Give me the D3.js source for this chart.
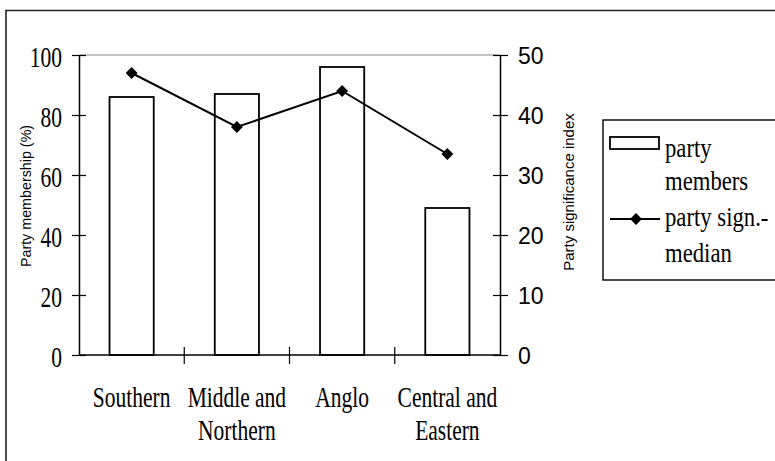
<!DOCTYPE html>
<html>
<head>
<meta charset="utf-8">
<script src="https://cdn.jsdelivr.net/npm/d3@7"></script>
<style>
  html, body { margin: 0; padding: 0; background: #fff; }
  svg { display: block; }
</style>
</head>
<body>
<svg id="chart" width="775" height="461"></svg>
<script>
// Regions (two-line labels split on "\n")
const categories = ["Southern", "Middle and\nNorthern", "Anglo", "Central and\nEastern"];
// Share of party members (%), left axis
const membership = [86, 87, 96, 49];
// Median party significance index, right axis
const significance = [47, 38, 44, 33.5];
const leftTicks = [0, 20, 40, 60, 80, 100];
const rightTicks = [0, 10, 20, 30, 40, 50];
const legendLabels = [["party", "members"], ["party sign.-", "median"]];

const svg = d3.select("#chart");
const serif = "'Liberation Serif', 'Times New Roman', serif";
const sans = "'Liberation Sans', Arial, sans-serif";
const STRETCH = 1.4; // vertical stretch applied to serif labels

const plot = { left: 79, right: 500, top: 55, bottom: 355 };

// Outer frame (top and left edges; the rest runs off the canvas)
svg.append("path")
  .attr("d", "M6,462 V10.5 H776")
  .attr("fill", "none").attr("stroke", "#222").attr("stroke-width", 1.6);

const x = d3.scaleBand()
  .domain(categories)
  .range([plot.left, plot.right])
  .paddingInner(0.58)
  .paddingOuter(0.29);
const yL = d3.scaleLinear().domain([0, 100]).range([plot.bottom, plot.top]);
const yR = d3.scaleLinear().domain([0, 50]).range([plot.bottom, plot.top]);
const cx = d => x(d) + x.bandwidth() / 2;

// Plot-area top edge
svg.append("line")
  .attr("x1", plot.left).attr("x2", plot.right)
  .attr("y1", plot.top).attr("y2", plot.top)
  .attr("stroke", "#888").attr("stroke-width", 1.2);

// Bars
svg.append("g").selectAll("rect")
  .data(categories)
  .join("rect")
  .attr("x", d => x(d))
  .attr("width", x.bandwidth())
  .attr("y", (d, i) => yL(membership[i]))
  .attr("height", (d, i) => yL(0) - yL(membership[i]))
  .attr("fill", "#fff")
  .attr("stroke", "#000")
  .attr("stroke-width", 1.8);

// Left axis
const gL = svg.append("g").attr("transform", `translate(${plot.left},0)`);
gL.call(d3.axisLeft(yL).tickValues(leftTicks).tickSize(0).tickFormat(""));
gL.select(".domain").attr("stroke", "#000").attr("stroke-width", 1.5);
gL.selectAll(".tick").append("line")
  .attr("x1", -7).attr("x2", 7).attr("stroke", "#000").attr("stroke-width", 1.2);
gL.selectAll(".tick").append("text")
  .attr("transform", `translate(-17,0) scale(1,${STRETCH})`)
  .attr("dy", "0.38em")
  .attr("text-anchor", "end")
  .attr("fill", "#000")
  .style("font-family", serif).style("font-size", "21.5px")
  .text(d => d);

// Right axis
const gR = svg.append("g").attr("transform", `translate(${plot.right},0)`);
gR.call(d3.axisRight(yR).tickValues(rightTicks).tickSize(0).tickFormat(""));
gR.select(".domain").attr("stroke", "#000").attr("stroke-width", 1.5);
gR.selectAll(".tick").append("line")
  .attr("x1", -7).attr("x2", 8).attr("stroke", "#000").attr("stroke-width", 1.2);
gR.selectAll(".tick").append("text")
  .attr("x", 18).attr("dy", "0.36em")
  .attr("text-anchor", "start")
  .attr("fill", "#000")
  .style("font-family", sans).style("font-size", "23px")
  .text(d => d);

// Bottom axis with ticks at category boundaries
const gB = svg.append("g").attr("transform", `translate(0,${plot.bottom})`);
gB.append("line")
  .attr("x1", plot.left).attr("x2", plot.right)
  .attr("stroke", "#000").attr("stroke-width", 1.5);
const boundaries = categories.slice(1).map(d => x(d) - (x.step() - x.bandwidth()) / 2);
gB.selectAll("line.tick")
  .data(boundaries)
  .join("line")
  .attr("class", "tick")
  .attr("x1", d => d).attr("x2", d => d)
  .attr("y1", -8).attr("y2", 9)
  .attr("stroke", "#000").attr("stroke-width", 1.2);
const catLabels = gB.selectAll("g.cat")
  .data(categories)
  .join("g")
  .attr("class", "cat")
  .attr("transform", d => `translate(${cx(d)},0)`);
catLabels.each(function (d) {
  const lines = d.split("\n");
  d3.select(this).selectAll("text")
    .data(lines)
    .join("text")
    .attr("transform", (l, i) => `translate(0,${52 + i * 33}) scale(1,${STRETCH})`)
    .attr("text-anchor", "middle")
    .attr("fill", "#000")
    .style("font-family", serif).style("font-size", "21.5px")
    .text(l => l);
});

// Axis titles
svg.append("text")
  .attr("transform", "translate(31,196) rotate(-90)")
  .attr("text-anchor", "middle")
  .attr("fill", "#000")
  .style("font-family", sans).style("font-size", "14.3px")
  .text("Party membership (%)");
svg.append("text")
  .attr("transform", "translate(574,192) rotate(-90)")
  .attr("text-anchor", "middle")
  .attr("fill", "#000")
  .style("font-family", sans).style("font-size", "15px")
  .text("Party significance index");

// Significance line with diamond markers
const line = d3.line()
  .x((v, i) => cx(categories[i]))
  .y(v => yR(v));
svg.append("path")
  .datum(significance)
  .attr("d", line)
  .attr("fill", "none")
  .attr("stroke", "#000")
  .attr("stroke-width", 2);
const diamond = d3.symbol().type(d3.symbolDiamond2).size(90);
svg.append("g").selectAll("path")
  .data(significance)
  .join("path")
  .attr("transform", (v, i) => `translate(${cx(categories[i])},${yR(v)})`)
  .attr("d", diamond)
  .attr("fill", "#000");

// Legend
const lg = svg.append("g");
lg.append("rect")
  .attr("x", 603).attr("y", 120)
  .attr("width", 200).attr("height", 160)
  .attr("fill", "#fff").attr("stroke", "#000").attr("stroke-width", 1.4);
lg.append("rect")
  .attr("x", 610).attr("y", 137)
  .attr("width", 49).attr("height", 12)
  .attr("fill", "#fff").attr("stroke", "#000").attr("stroke-width", 1.8);
lg.append("line")
  .attr("x1", 610).attr("x2", 660)
  .attr("y1", 219).attr("y2", 219)
  .attr("stroke", "#000").attr("stroke-width", 2);
lg.append("path")
  .attr("transform", "translate(636,219)")
  .attr("d", diamond)
  .attr("fill", "#000");
const legendBase = [[157, 190], [226, 262]];
legendLabels.forEach((pair, k) => {
  pair.forEach((t, j) => {
    lg.append("text")
      .attr("transform", `translate(665,${legendBase[k][j]}) scale(1,1.25)`)
      .attr("fill", "#000")
      .style("font-family", serif).style("font-size", "22.7px")
      .text(t);
  });
});
</script>
</body>
</html>
